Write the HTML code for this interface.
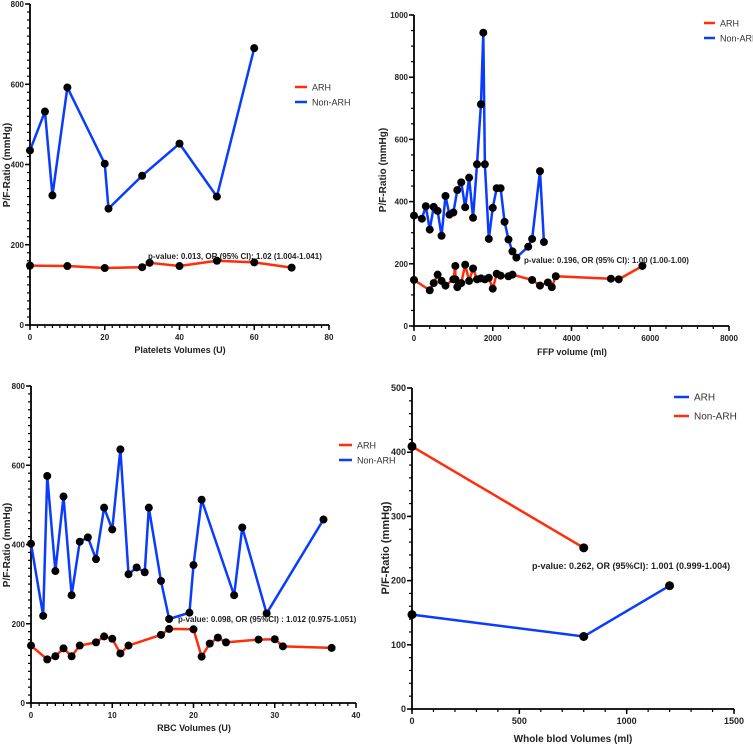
<!DOCTYPE html>
<html><head><meta charset="utf-8"><style>
html,body{margin:0;padding:0;background:#fff;}
svg{display:block;font-family:"Liberation Sans",Arial,sans-serif;}
</style></head><body>
<svg id="c" width="753" height="747" viewBox="0 0 753 747" xmlns="http://www.w3.org/2000/svg"></svg>
<script>
// Panel A: platelets
const aNonX=[0,4,6,10,20,21,30,40,50,60];
const aNonY=[435,532,323,592,402,290,372,452,320,690];
const aArhX=[0,10,20,30,32,40,50,60,70];
const aArhY=[148,147,142,144,155,147,160,156,143];
const aXTicks=[0,20,40,60,80];
const aYTicks=[0,200,400,600,800];
// Panel B: FFP
const bNonX=[0,200,300,400,500,600,700,800,900,1000,1100,1200,1300,1400,1500,1600,1700,1760,1800,1900,2000,2100,2200,2300,2400,2500,2600,2900,3000,3200,3300];
const bNonY=[355,345,385,310,383,370,290,418,358,365,437,462,382,477,348,520,713,943,520,280,380,443,443,335,278,240,220,255,280,498,270];
const bArhX=[0,400,500,600,700,800,1000,1050,1050,1100,1200,1300,1400,1500,1600,1700,1800,1900,2000,2100,2200,2400,2500,3000,3200,3400,3500,3600,5000,5200,5800];
const bArhY=[148,115,138,165,145,130,150,193,150,125,138,197,145,185,150,153,150,155,120,168,162,160,165,148,130,140,125,160,152,150,193];
const bXTicks=[0,2000,4000,6000,8000];
const bYTicks=[0,200,400,600,800,1000];
// Panel C: RBC
const cNonX=[0,1.5,2,3,4,5,6,7,8,9,10,11,12,13,14,14.5,16,17,19.5,20,21,25,26,29,36];
const cNonY=[402,220,573,333,521,272,407,418,363,493,438,640,325,342,330,493,308,212,228,348,513,272,443,226,463];
const cArhX=[0,2,3,4,5,6,8,9,10,11,12,16,17,20,21,22,23,24,28,30,31,37];
const cArhY=[145,110,118,138,118,145,153,168,162,125,145,172,187,186,117,150,165,153,160,161,143,139];
const cXTicks=[0,10,20,30,40];
const cYTicks=[0,200,400,600,800];
// Panel D: whole blood
const dArhX=[0,800,1200];
const dArhY=[147,113,192];
const dNonX=[0,800];
const dNonY=[409,251];
const dXTicks=[0,500,1000,1500];
const dYTicks=[0,100,200,300,400,500];

const NS="http://www.w3.org/2000/svg";
const svg=document.getElementById('c');
const RED="#ff2d0a", BLUE="#0a3cff";
function mk(tag,attrs,parent){const e=document.createElementNS(NS,tag);for(const k in attrs)e.setAttribute(k,attrs[k]);(parent||svg).appendChild(e);return e;}

function panel(p){
  const g=mk('g',{});
  
  
  const sx=v=>p.x0+(v-p.xmin)/(p.xmax-p.xmin)*(p.x1-p.x0);
  const sy=v=>p.y0-(v-p.ymin)/(p.ymax-p.ymin)*(p.y0-p.y1);
  for(let v=p.ymin;v<=p.ymax+1e-9;v+=p.yMinor){const t=mk('line',{x1:p.x0-3,x2:p.x0,y1:sy(v),y2:sy(v),stroke:'#000','stroke-width':1.2},g);}
  for(let v=p.xmin;v<=p.xmax+1e-9;v+=p.xMinor){const t=mk('line',{x1:sx(v),x2:sx(v),y1:p.y0,y2:p.y0+3,stroke:'#000','stroke-width':1.2},g);}
  const ya=mk('line',{x1:p.x0,x2:p.x0,y1:p.y1,y2:p.y0+1,stroke:'#000','stroke-width':1.8},g);
  
  const xa=mk('line',{x1:p.x0-1,x2:p.x1,y1:p.y0,y2:p.y0,stroke:'#000','stroke-width':1.8},g);
  
  p.yt.forEach(v=>{
    mk('line',{x1:p.x0-5,x2:p.x0,y1:sy(v),y2:sy(v),stroke:'#000','stroke-width':1.5},g);
    const t=mk('text',{x:p.x0-6,y:sy(v)+3,'text-anchor':'end','font-size':p.fs,'font-weight':'bold',fill:'#222'},g);
    t.textContent=v;
  });
  p.xt.forEach(v=>{
    mk('line',{x1:sx(v),x2:sx(v),y1:p.y0,y2:p.y0+5,stroke:'#000','stroke-width':1.5},g);
    const t=mk('text',{x:sx(v),y:p.y0+15,'text-anchor':'middle','font-size':p.fs,'font-weight':'bold',fill:'#222'},g);
    t.textContent=v;
  });
  const xt=mk('text',{x:p.xtx,y:p.xty,'text-anchor':'middle','font-size':p.fs+1,'font-weight':'bold',fill:'#222'},g);
  xt.textContent=p.xtitle;
  const ytl=mk('text',{x:0,y:0,'text-anchor':'middle','font-size':p.fs+2,'font-weight':'bold',fill:'#222',transform:`translate(${p.ytx},${p.yty}) rotate(-90)`},g);
  ytl.textContent='P/F-Ratio (mmHg)';
  p.series.forEach(s=>{
    const pts=s.xs.map((x,i)=>sx(x)+','+sy(s.ys[i])).join(' ');
    const l=mk('polyline',{points:pts,fill:'none',stroke:s.color,'stroke-width':2.5,'stroke-linejoin':'round'},g);
    
    s.xs.forEach((x,i)=>{
      const c=mk('circle',{cx:sx(x),cy:sy(s.ys[i]),r:p.r,fill:'#000'},g);
      
    });
  });
  const an=mk('text',{x:p.anx,y:p.any,'font-size':p.afs||p.fs,'font-weight':'bold',fill:'#222'},g);
  an.textContent=p.ann;
  p.legend.forEach((L,i)=>{
    const yy=p.lgy+i*p.lgdy;
    const ll=mk('line',{x1:p.lgx,x2:p.lgx+p.lgw,y1:yy,y2:yy,stroke:L.color,'stroke-width':2.5},g);
    
    const lt=mk('text',{x:p.lgx+p.lgw+5,y:yy+3.5,'font-size':p.lfs||p.fs+1,fill:'#333'},g);
    lt.textContent=L.label;
  });
}

panel({name:'platelets-panel',x0:30,x1:329,y0:325,y1:4,xmin:0,xmax:80,ymin:0,ymax:800,xMinor:2,yMinor:20,
  xt:aXTicks,yt:aYTicks,fs:8,r:4,xtitle:'Platelets Volumes (U)',xtx:180,xty:353,ytx:10,yty:165,
  series:[{key:'arh',xs:aArhX,ys:aArhY,color:RED},{key:'non-arh',xs:aNonX,ys:aNonY,color:BLUE}],
  ann:'p-value: 0.013, OR (95% CI): 1.02 (1.004-1.041)',anx:148,any:259,
  legend:[{label:'ARH',color:RED},{label:'Non-ARH',color:BLUE}],lgx:295,lgy:87,lgdy:15,lgw:12});
panel({name:'ffp-panel',x0:414,x1:729,y0:326,y1:15,xmin:0,xmax:8000,ymin:0,ymax:1000,xMinor:400,yMinor:50,
  xt:bXTicks,yt:bYTicks,fs:8,r:4,xtitle:'FFP volume (ml)',xtx:572,xty:355,ytx:386,yty:170,
  series:[{key:'arh',xs:bArhX,ys:bArhY,color:RED},{key:'non-arh',xs:bNonX,ys:bNonY,color:BLUE}],
  ann:'p-value: 0.196, OR (95% CI): 1.00 (1.00-1.00)',anx:524,any:263,
  legend:[{label:'ARH',color:RED},{label:'Non-ARH',color:BLUE}],lgx:704,lgy:23,lgdy:15,lgw:11});
panel({name:'rbc-panel',x0:31,x1:356,y0:703,y1:386,xmin:0,xmax:40,ymin:0,ymax:800,xMinor:1,yMinor:20,
  xt:cXTicks,yt:cYTicks,fs:8,r:4,xtitle:'RBC Volumes (U)',xtx:194,xty:731,ytx:10,yty:545,
  series:[{key:'arh',xs:cArhX,ys:cArhY,color:RED},{key:'non-arh',xs:cNonX,ys:cNonY,color:BLUE}],
  ann:'p-value: 0.098, OR (95%CI) : 1.012 (0.975-1.051)',anx:178,any:622,
  legend:[{label:'ARH',color:RED},{label:'Non-ARH',color:BLUE}],lgx:339,lgy:445,lgdy:15,lgw:13});
panel({name:'whole-blood-panel',x0:412,x1:734,y0:709,y1:388,xmin:0,xmax:1500,ymin:0,ymax:500,xMinor:100,yMinor:20,
  xt:dXTicks,yt:dYTicks,fs:9,afs:9,lfs:10,r:4.5,xtitle:'Whole blod Volumes (ml)',xtx:573,xty:742,ytx:389,yty:548,
  series:[{key:'arh',xs:dArhX,ys:dArhY,color:BLUE},{key:'non-arh',xs:dNonX,ys:dNonY,color:RED}],
  ann:'p-value: 0.262, OR (95%CI): 1.001 (0.999-1.004)',anx:532,any:569,
  legend:[{label:'ARH',color:BLUE},{label:'Non-ARH',color:RED}],lgx:674,lgy:397,lgdy:19,lgw:15});
</script>
</body></html>
